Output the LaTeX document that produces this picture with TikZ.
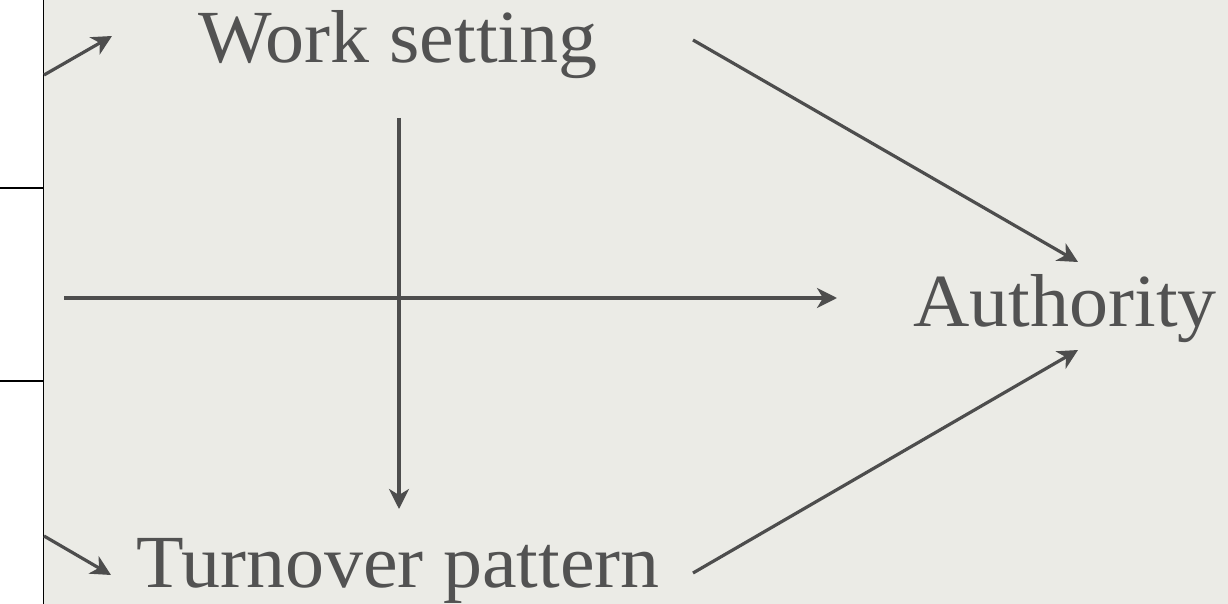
\documentclass[tikz,border=0pt]{standalone}
\usepackage{fontspec}
\setmainfont[FakeStretch=1.04]{Liberation Serif}
\usetikzlibrary{arrows.meta}
\definecolor{bg}{HTML}{EBEBE6}
\definecolor{ink}{HTML}{4D4D4D}
\definecolor{txt}{HTML}{525252}
\tikzset{
  conn/.style={draw=ink, line width=3.2pt, -{Stealth[length=20pt,width=20pt,inset=6pt]}},
  frame/.style={draw=black, line width=1.6pt},
  lbl/.style={inner sep=0pt, anchor=base, text=txt, font=\fontsize{75}{90}\selectfont},
}
\begin{document}
\begin{tikzpicture}[x=1pt,y=-1pt]
\useasboundingbox (0,0) rectangle (1228,604);
\fill[white] (0,0) rectangle (43.5,604);
\fill[bg] (43.5,0) rectangle (1228,604);
% left frame
\coordinate (fTop) at (43.5,0);
\coordinate (fBot) at (43.5,604);
\coordinate (h1a) at (0,188);
\coordinate (h1b) at (43.5,188);
\coordinate (h2a) at (0,381);
\coordinate (h2b) at (43.5,381);
\draw[frame] (fTop) -- (fBot);
\draw[frame] (h1a) -- (h1b);
\draw[frame] (h2a) -- (h2b);
% labels
\node[lbl] (ws) at (398,63) {Work setting};
\node[lbl] (tp) at (398,587) {Turnover pattern};
\node[lbl] (auth) at (1065,326) {Authority};
% connector end points
\coordinate (lt0) at (44,75);
\coordinate (lt1) at (112,36);
\coordinate (lb0) at (44,536);
\coordinate (lb1) at (111,575);
\coordinate (v0) at (399,118);
\coordinate (v1) at (399,509);
\coordinate (hz0) at (64,298);
\coordinate (hz1) at (837,298);
\coordinate (u0) at (693,40);
\coordinate (u1) at (1078,262);
\coordinate (d0) at (693,573);
\coordinate (d1) at (1078,350);
% connectors
\draw[conn] (lt0) -- (lt1);
\draw[conn] (lb0) -- (lb1);
\draw[conn] (v0) -- (v1);
\draw[conn] (hz0) -- (hz1);
\draw[conn] (u0) -- (u1);
\draw[conn] (d0) -- (d1);
\end{tikzpicture}
\end{document}
